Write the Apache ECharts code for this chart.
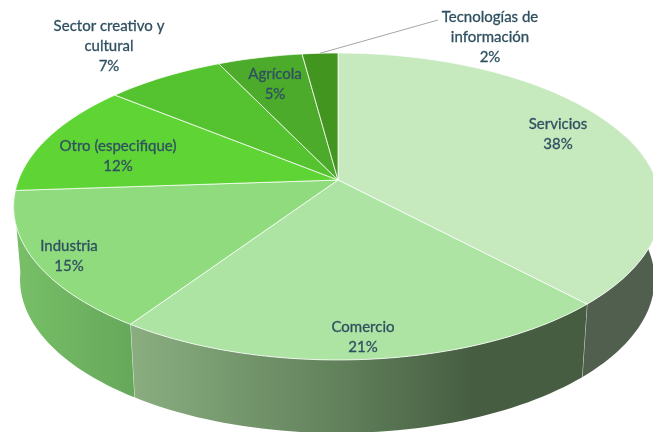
<!DOCTYPE html>
<html>
<head>
<meta charset="utf-8">
<style>html,body{margin:0;padding:0;background:#fff}#chart{width:653px;height:432px}</style>
<script src="https://cdn.jsdelivr.net/npm/echarts@6/dist/echarts.min.js"></script>
</head>
<body>
<div id="chart"></div>
<script>
const categories = ['Servicios', 'Comercio', 'Industria', 'Otro (especifique)', 'Sector creativo y\ncultural', 'Agrícola', 'Tecnologías de\ninformación'];
// estimated from the slice edges, the labels show them rounded
const shares = [38, 21.4, 14.5, 12, 7, 5, 2.1];
const topColors = ['#c6e9be', '#ade3a3', '#8fdb7d', '#5fd535', '#55c22f', '#4dab2b', '#42951f'];
// where each label sits, [x, y] of the text centre
const labelSpots = [[558, 134], [363, 337], [69, 256], [118, 156], [109, 46], [275, 84], [490, 37]];

const chart = echarts.init(document.getElementById('chart'));
const total = shares.reduce((a, b) => a + b, 0);

// tilted disc: a circle seen in perspective, the hub is not in the middle of the ellipse
const tilt = -0.1726;
function project(frac, depth) {
  const a = frac * Math.PI * 2;
  const u = Math.sin(a), v = -Math.cos(a);
  const w = 1 + tilt * v;
  const r = u < 0 ? 319.5 : 318;
  const s = 1 - depth * 0.00027;
  return [338 + r * s * u / w, 180 + depth + 148.9 * v / w];
}

const starts = [];
shares.reduce((sum, v, i) => { starts[i] = sum / total; return sum + v; }, 0);

function arcPoints(from, to, depth) {
  const pts = [];
  const n = Math.max(4, Math.ceil((to - from) * 240));
  for (let i = 0; i <= n; i++) pts.push(project(from + (to - from) * i / n, depth));
  return pts;
}

const wallDepth = 73;
const wallFill = {
  0: '#515f4e',
  1: new echarts.graphic.LinearGradient(0, 0, 1, 0, [
    { offset: 0, color: '#8aae80' }, { offset: 0.45, color: '#62825c' },
    { offset: 0.75, color: '#465d41' }, { offset: 1, color: '#465d41' }
  ]),
  2: new echarts.graphic.LinearGradient(0, 0, 1, 0, [
    { offset: 0, color: '#78c068' }, { offset: 1, color: '#66a85a' }
  ])
};

function renderSlice(params, api) {
  const i = api.value(0);
  const from = starts[i], to = from + shares[i] / total;
  const top = arcPoints(from, to, 0);
  const children = [];
  if (wallFill[i]) {
    // only the part of the rim that faces the viewer gets a wall
    const wTo = i === 2 ? Math.min(to, 0.73) : to;
    const wFrom = i === 0 ? 0.2 : from;
    const upper = arcPoints(wFrom, wTo, 0);
    const lower = arcPoints(wFrom, wTo, wallDepth).reverse();
    children.push({
      type: 'polygon',
      shape: { points: upper.concat(lower) },
      style: { fill: wallFill[i], stroke: null }
    });
    if (i < 2) {
      children.push({
        type: 'line',
        shape: { x1: project(to, 0)[0], y1: project(to, 0)[1], x2: project(to, wallDepth)[0], y2: project(to, wallDepth)[1] },
        style: { stroke: 'rgba(255,255,255,0.7)', lineWidth: 1 }
      });
    }
  }
  children.push({
    type: 'polygon',
    shape: { points: [[338, 180]].concat(top) },
    style: { fill: topColors[i], stroke: 'rgba(255,255,255,0.75)', lineWidth: 1 }
  });
  return { type: 'group', children: children };
}

function renderLabel(params, api) {
  const i = api.value(0);
  return {
    type: 'text',
    x: labelSpots[i][0],
    y: labelSpots[i][1],
    style: {
      text: categories[i] + '\n' + Math.round(shares[i]) + '%',
      fill: '#2f5060',
      font: '15px Lato',
      lineHeight: 20,
      align: 'center',
      verticalAlign: 'middle',
      stroke: '#2f5060',
      lineWidth: 0.3
    }
  };
}

// leader line for the small slice
const tipFrom = project(starts[6] + shares[6] / total / 2, 0);

chart.setOption({
  animation: false,
  backgroundColor: '#fff',
  xAxis: { show: false },
  yAxis: { show: false },
  series: [
    {
      type: 'custom',
      coordinateSystem: 'none',
      renderItem: renderSlice,
      data: shares.map((v, i) => [i, v]),
      silent: true,
      z: 1
    },
    {
      type: 'custom',
      coordinateSystem: 'none',
      renderItem: renderLabel,
      data: shares.map((v, i) => [i, v]),
      silent: true,
      z: 3
    }
  ],
  graphic: [{
    type: 'polyline',
    shape: { points: [tipFrom, [438, 20]] },
    style: { stroke: '#a6a6a6', lineWidth: 1, fill: null },
    z: 2
  }]
});
</script>
</body>
</html>
